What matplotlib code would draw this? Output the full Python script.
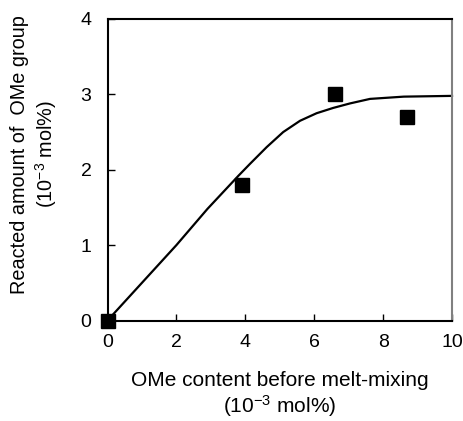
import matplotlib
matplotlib.use("Agg")
import matplotlib.pyplot as plt

plt.rcParams['font.family'] = ['Liberation Sans', 'DejaVu Sans']
plt.rcParams['mathtext.fontset'] = 'custom'
plt.rcParams['mathtext.rm'] = 'Liberation Sans'
plt.rcParams['mathtext.it'] = 'Liberation Sans:italic'
plt.rcParams['mathtext.bf'] = 'Liberation Sans:bold'

# measured data
data_x = [0.0, 3.9, 6.6, 8.7]
data_y = [0.0, 1.8, 3.0, 2.7]

# fitted curve
curve_x = [0, 1, 2, 2.9, 3.8, 4.14, 4.62, 5.1, 5.59, 6.07, 6.55, 7.04, 7.62, 8.6, 10]
curve_y = [0, 0.5, 1.0, 1.48, 1.92, 2.08, 2.30, 2.50, 2.65, 2.75, 2.82, 2.88, 2.94, 2.97, 2.98]

x_ticks = [0, 2, 4, 6, 8, 10]
y_ticks = [0, 1, 2, 3, 4]

fig = plt.figure(figsize=(4.63, 4.21), dpi=100)
ax = fig.add_axes([107.5 / 463, 1 - 320.5 / 421, (452 - 107.5) / 463, (320.5 - 19) / 421])

ax.plot(curve_x, curve_y, color='black', lw=1.6, zorder=2, clip_on=False)
ax.plot(data_x, data_y, ls='none', marker='s', ms=10, color='black', zorder=3, clip_on=False)

ax.set_xlim(0, 10)
ax.set_ylim(0, 4)
ax.set_xticks(x_ticks)
ax.set_yticks(y_ticks)
ax.tick_params(direction='in', length=5, width=1, labelsize=14, colors='black')
ax.tick_params(axis='x', pad=10)
ax.tick_params(axis='y', pad=11.5)

for s in ['left', 'bottom', 'top']:
    ax.spines[s].set_color('black')
    ax.spines[s].set_linewidth(1.5)
ax.spines['right'].set_color('#808080')
ax.spines['right'].set_linewidth(1.5)

ax.set_xlabel('OMe content before melt-mixing\n(10$^{\\mathrm{-3}}$ mol%)', fontsize=15, linespacing=1.15)
ax.set_ylabel('Reacted amount of  OMe group\n(10$^{\\mathrm{-3}}$ mol%)', fontsize=14.3, linespacing=1.2)
ax.xaxis.set_label_coords(0.5, -0.168)
ax.yaxis.set_label_coords(-0.140, 0.552)

fig.savefig('out.png', dpi=100)
